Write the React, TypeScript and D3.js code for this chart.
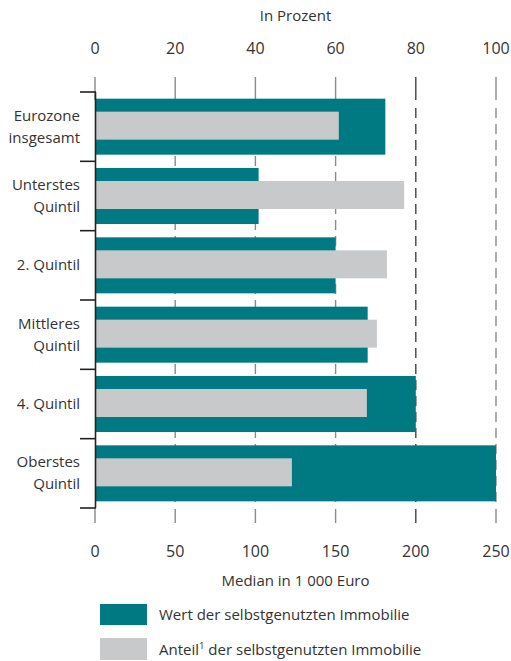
import { scaleBand, scaleLinear } from "d3";

const categories = [
  "Eurozone insgesamt",
  "Unterstes Quintil",
  "2. Quintil",
  "Mittleres Quintil",
  "4. Quintil",
  "Oberstes Quintil"
];
const categoryLines = [
  ["Eurozone", "insgesamt"],
  ["Unterstes", "Quintil"],
  ["2. Quintil"],
  ["Mittleres", "Quintil"],
  ["4. Quintil"],
  ["Oberstes", "Quintil"]
];
// Median in 1 000 Euro (bottom axis)
const wertValues = [181, 102, 150, 170, 200, 250];
// In Prozent (top axis)
const anteilValues = [60.8, 77.1, 72.8, 70.3, 67.8, 49.1];
const euroTicks = [0, 50, 100, 150, 200, 250];
const pctTicks = [0, 20, 40, 60, 80, 100];

const width = 511;
const height = 661;
const left = 95;
const right = 496;
const top = 92;
const bottom = 508;
const teal = "#007a82";
const grey = "#c8c9cb";
const textColor = "#333333";
const font = "'Open Sans', 'Noto Sans', sans-serif";

export default function App(): React.JSX.Element {
  const xEuro = scaleLinear().domain([0, 250]).range([left, right]);
  const xPct = scaleLinear().domain([0, 100]).range([left, right]);
  const y = scaleBand<string>().domain(categories).range([top, bottom]);
  const band = y.bandwidth();
  const tealH = 56;
  const greyH = 28;

  return (
    <svg
      width={width}
      height={height}
      style={{ position: "absolute", left: 0, top: 0 }}
      fontFamily={font}
    >
      <text x={(left + right) / 2} y={21} textAnchor="middle" fontSize={15} fill={textColor}>
        In Prozent
      </text>
      {pctTicks.map((t) => (
        <g key={`p${t}`}>
          <text x={xPct(t)} y={54} textAnchor="middle" fontSize={16} fill={textColor}>
            {t}
          </text>
          <line
            x1={xPct(t)}
            x2={xPct(t)}
            y1={77}
            y2={100}
            stroke={t === 80 ? "#444" : "#8a8a8a"}
            strokeWidth={1.4}
          />
        </g>
      ))}
      {euroTicks.slice(1).map((t) => (
        <line
          key={`g${t}`}
          x1={xEuro(t)}
          x2={xEuro(t)}
          y1={108}
          y2={508}
          stroke={t === 200 ? "#444" : "#8a8a8a"}
          strokeWidth={1.4}
          strokeDasharray="10,6"
        />
      ))}
      {categories.map((c, i) => {
        const y0 = y(c) ?? 0;
        const cy = y0 + band / 2;
        return (
          <g key={c}>
            <rect
              x={xEuro(0) + 1}
              y={cy - tealH / 2}
              width={xEuro(wertValues[i]) - xEuro(0) - 1}
              height={tealH}
              fill={teal}
            />
            <rect
              x={xPct(0)}
              y={cy - greyH / 2 - 1}
              width={xPct(anteilValues[i]) - xPct(0)}
              height={greyH}
              fill={grey}
            />
            {categoryLines[i].map((l, j) => (
              <text
                key={l}
                x={80}
                y={cy + 5 + (j - (categoryLines[i].length - 1) / 2) * 22}
                textAnchor="end"
                fontSize={15}
                fill={textColor}
              >
                {l}
              </text>
            ))}
          </g>
        );
      })}
      <line x1={95.5} x2={95.5} y1={top} y2={bottom} stroke="#222" strokeWidth={1.6} />
      {[...categories.map((c) => y(c) ?? 0), bottom].map((v, i) => (
        <line key={`t${i}`} x1={80} x2={96} y1={v} y2={v} stroke="#222" strokeWidth={1.6} />
      ))}
      {euroTicks.map((t) => (
        <g key={`e${t}`}>
          <line
            x1={xEuro(t)}
            x2={xEuro(t)}
            y1={509}
            y2={523}
            stroke={t === 200 ? "#444" : "#8a8a8a"}
            strokeWidth={1.4}
          />
          <text x={xEuro(t)} y={557} textAnchor="middle" fontSize={16} fill={textColor}>
            {t}
          </text>
        </g>
      ))}
      <text x={(left + right) / 2} y={586} textAnchor="middle" fontSize={15} fill={textColor}>
        Median in 1 000 Euro
      </text>
      <rect x={100} y={604} width={47} height={21} fill={teal} />
      <text x={159} y={620} fontSize={15} fill={textColor}>
        Wert der selbstgenutzten Immobilie
      </text>
      <rect x={100} y={638} width={47} height={22} fill={grey} />
      <text x={159} y={655} fontSize={15} fill={textColor}>
        Anteil
        <tspan fontSize={9.5} dy={-6}>
          1
        </tspan>
        <tspan dy={6}> der selbstgenutzten Immobilie</tspan>
      </text>
    </svg>
  );
}
